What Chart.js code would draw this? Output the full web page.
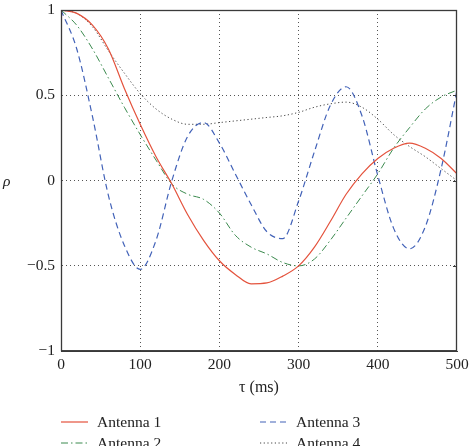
<!DOCTYPE html>
<html>
<head>
<meta charset="utf-8">
<script src="https://cdn.jsdelivr.net/npm/chart.js@4"></script>
<style>
  html, body { margin: 0; padding: 0; background: #fff; }
  #wrap { width: 469px; height: 446px; position: relative; }
</style>
</head>
<body>
<div id="wrap"><canvas id="chart" width="469" height="446"></canvas></div>
<script>
// tau (ms)
const tau = [0, 20, 40, 60, 80, 100, 120, 140, 160, 180, 200, 220, 240, 260, 280, 300, 320, 340, 360, 380, 400, 420, 440, 460, 480, 500];

const antenna1 = [1, 0.98, 0.91, 0.77, 0.54, 0.33, 0.14, -0.02, -0.2, -0.35, -0.47, -0.55, -0.605, -0.6, -0.56, -0.5, -0.39, -0.24, -0.08, 0.04, 0.13, 0.19, 0.22, 0.19, 0.13, 0.04];
const antenna2 = [1, 0.91, 0.77, 0.6, 0.43, 0.27, 0.12, -0.02, -0.08, -0.11, -0.19, -0.32, -0.39, -0.43, -0.48, -0.5, -0.46, -0.35, -0.22, -0.09, 0.04, 0.19, 0.31, 0.42, 0.49, 0.53];
const antenna3 = [1, 0.77, 0.37, -0.09, -0.38, -0.52, -0.35, 0.0, 0.26, 0.34, 0.22, 0.04, -0.14, -0.3, -0.34, -0.12, 0.17, 0.44, 0.55, 0.38, 0.03, -0.28, -0.4, -0.27, 0.07, 0.53];
const antenna4 = [1, 0.98, 0.9, 0.76, 0.63, 0.51, 0.42, 0.36, 0.33, 0.33, 0.34, 0.35, 0.36, 0.37, 0.38, 0.4, 0.43, 0.45, 0.46, 0.43, 0.36, 0.27, 0.2, 0.14, 0.07, 0.0];

const seriesNames = ['Antenna 1', 'Antenna 2', 'Antenna 3', 'Antenna 4'];
const xTicks = [0, 100, 200, 300, 400, 500];
const yTicks = [-1, -0.5, 0, 0.5, 1];

const SERIF = '"Liberation Serif", "DejaVu Serif", serif';
const FS = 15.5;

function pts(ys) {
    return tau.map((t, i) => ({x: t, y: ys[i]}));
}

const styles = [
    {color: '#e4533d', dash: [], width: 1.2},
    {color: '#3b8a4e', dash: [7, 3, 1.5, 3], width: 1},
    {color: '#4262b8', dash: [6, 4], width: 1.2},
    {color: '#444444', dash: [1.2, 2.5], width: 1}
];

const datasets = [antenna1, antenna2, antenna3, antenna4].map((ys, i) => ({
    label: seriesNames[i],
    data: pts(ys),
    borderColor: styles[i].color,
    borderDash: styles[i].dash,
    borderWidth: styles[i].width,
    pointRadius: 0,
    cubicInterpolationMode: 'monotone',
    fill: false
}));

// legend drawn below the plot, 2 columns, plus rho label and frame
const legendPlugin = {
    id: 'paperLegend',
    afterDraw(chart) {
        const ctx = chart.ctx;
        const spots = [[61, 422], [61, 443], [260, 422], [260, 443]];
        ctx.save();
        chart.data.datasets.forEach((ds, i) => {
            const [x, y] = spots[i];
            ctx.beginPath();
            ctx.strokeStyle = ds.borderColor;
            ctx.lineWidth = ds.borderWidth;
            ctx.setLineDash(ds.borderDash);
            ctx.moveTo(x, y);
            ctx.lineTo(x + 27, y);
            ctx.stroke();
            ctx.setLineDash([]);
            ctx.fillStyle = '#222';
            ctx.font = FS + 'px ' + SERIF;
            ctx.textBaseline = 'middle';
            ctx.textAlign = 'left';
            ctx.fillText(ds.label, x + 36, y + 1);
        });
        ctx.font = 'italic ' + FS + 'px ' + SERIF;
        ctx.fillStyle = '#222';
        ctx.textAlign = 'left';
        ctx.textBaseline = 'middle';
        ctx.fillText('ρ', 3, 182);
        const a = chart.chartArea;
        ctx.strokeStyle = '#3a3a3a';
        ctx.lineWidth = 1.3;
        ctx.strokeRect(a.left + 0.5, a.top + 0.5, a.right - a.left - 1, a.bottom - a.top - 1);
        // small inward ticks on the right edge
        ctx.lineWidth = 1;
        const ys = chart.scales.y;
        [-0.5, 0, 0.5].forEach(v => {
            const py = Math.round(ys.getPixelForValue(v)) + 0.5;
            ctx.beginPath();
            ctx.moveTo(a.right - 4, py);
            ctx.lineTo(a.right, py);
            ctx.stroke();
        });
        ctx.restore();
    }
};

const gridDash = [1, 3];

new Chart(document.getElementById('chart'), {
    type: 'line',
    data: {datasets: datasets},
    options: {
        responsive: false,
        animation: false,
        layout: {padding: {left: 0, right: 12, top: 10, bottom: 45}},
        plugins: {
            legend: {display: false},
            tooltip: {enabled: false}
        },
        scales: {
            x: {
                type: 'linear',
                min: 0,
                max: 500,
                afterBuildTicks: axis => { axis.ticks = xTicks.map(v => ({value: v})); },
                afterFit: axis => { axis.paddingLeft = 0; axis.paddingRight = 0; },
                ticks: {
                    color: '#222',
                    font: {family: SERIF, size: FS},
                    padding: 4,
                    maxRotation: 0
                },
                grid: {
                    color: ctx => (ctx.tick && (ctx.tick.value === 0 || ctx.tick.value === 500)) ? 'rgba(0,0,0,0)' : '#555',
                    lineWidth: 1,
                    drawTicks: false,
                    dash: gridDash
                },
                border: {display: true, color: '#3a3a3a', dash: gridDash},
                title: {
                    display: true,
                    text: 'τ (ms)',
                    color: '#222',
                    font: {family: SERIF, size: 16},
                    padding: {top: 0}
                }
            },
            y: {
                min: -1,
                max: 1,
                afterBuildTicks: axis => { axis.ticks = yTicks.map(v => ({value: v})); },
                afterFit: axis => { axis.width = 61; axis.paddingTop = 0; axis.paddingBottom = 0; },
                ticks: {
                    color: '#222',
                    font: {family: SERIF, size: FS},
                    padding: 6,
                    callback: v => String(v).replace('-', '\u2212')
                },
                grid: {
                    color: ctx => (ctx.tick && (ctx.tick.value === 1 || ctx.tick.value === -1)) ? 'rgba(0,0,0,0)' : '#555',
                    lineWidth: 1,
                    drawTicks: false,
                    dash: gridDash
                },
                border: {display: true, color: '#3a3a3a', dash: gridDash}
            }
        }
    },
    plugins: [legendPlugin]
});
</script>
</body>
</html>
